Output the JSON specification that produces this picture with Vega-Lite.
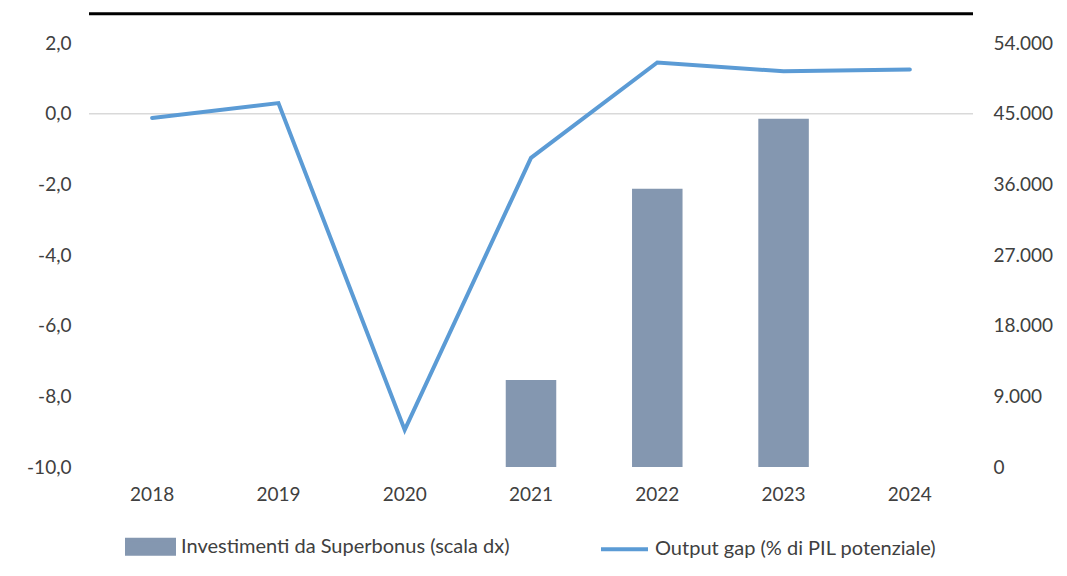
{
  "$schema": "https://vega.github.io/schema/vega-lite/v6.json",
  "width": 884,
  "height": 424,
  "autosize": {"type": "none"},
  "padding": {"left": 89, "top": 43, "right": 94, "bottom": 109},
  "background": "white",
  "config": {
    "font": "Lato",
    "view": {"stroke": null},
    "axis": {"domain": false, "ticks": false, "grid": false, "labelFont": "Lato", "labelFontSize": 19, "labelColor": "#404040", "title": null}
  },
  "data": {
    "values": [
      {"anno": "2018", "output_gap": -0.12, "investimenti": null},
      {"anno": "2019", "output_gap": 0.3, "investimenti": null},
      {"anno": "2020", "output_gap": -8.95, "investimenti": null},
      {"anno": "2021", "output_gap": -1.25, "investimenti": 11090},
      {"anno": "2022", "output_gap": 1.45, "investimenti": 35440},
      {"anno": "2023", "output_gap": 1.2, "investimenti": 44360},
      {"anno": "2024", "output_gap": 1.25, "investimenti": null}
    ]
  },
  "layer": [
    {
      "mark": {"type": "bar", "color": "#8497B0"},
      "encoding": {
        "x": {"field": "anno", "type": "ordinal", "scale": {"paddingInner": 0.6, "paddingOuter": 0.3}, "axis": {"title": null, "labelAngle": 0, "labelPadding": 18}},
        "y": {"field": "investimenti", "type": "quantitative", "scale": {"domain": [0, 54000], "nice": false},
          "axis": {"orient": "right", "values": [0, 9000, 18000, 27000, 36000, 45000, 54000], "labelExpr": "replace(format(datum.value, ','), ',', '.')", "labelPadding": 20, "labelAlign": "left"}},
        "color": {
          "datum": "Investimenti da Superbonus (scala dx)",
          "scale": {"domain": ["Investimenti da Superbonus (scala dx)", "Output gap (% di PIL potenziale)"], "range": ["#8497B0", "#5B9BD5"]},
          "legend": {
            "title": null,
            "orient": "none",
            "legendX": 36,
            "legendY": 478,
            "direction": "horizontal",
            "columns": 2,
            "columnPadding": 83,
            "padding": 0,
            "labelFont": "Lato",
            "labelFontSize": 20,
            "labelColor": "#404040",
            "labelLimit": 0,
            "labelOffset": 5,
            "symbolSize": 2209,
            "symbolStrokeWidth": 4,
            "encode": {
              "symbols": {
                "update": {
                  "shape": {"signal": "datum.value === 'Output gap (% di PIL potenziale)' ? 'stroke' : 'M-1,-0.3H1V0.3H-1Z'"},
                  "fill": {"signal": "datum.value === 'Output gap (% di PIL potenziale)' ? 'transparent' : '#8497B0'"},
                  "stroke": {"signal": "datum.value === 'Output gap (% di PIL potenziale)' ? '#5B9BD5' : 'transparent'"},
                  "strokeWidth": {"value": 4},
                  "opacity": {"value": 1}
                }
              }
            }
          }
        }
      }
    },
    {
      "layer": [
        {
          "data": {"values": [{}]},
          "mark": {"type": "rule", "color": "#D9D9D9", "strokeWidth": 1.5},
          "encoding": {"y": {"datum": 0}}
        },
        {
          "mark": {"type": "line", "strokeWidth": 4, "strokeCap": "round", "color": "#5B9BD5"},
          "encoding": {
            "x": {"field": "anno", "type": "ordinal"},
            "y": {"field": "output_gap", "type": "quantitative", "scale": {"domain": [-10, 2], "nice": false},
              "axis": {"orient": "left", "values": [-10, -8, -6, -4, -2, 0, 2], "labelExpr": "(datum.value < 0 ? '-' : '') + replace(format(abs(datum.value), '.1f'), '.', ',')", "labelPadding": 18}},
            "color": {"datum": "Output gap (% di PIL potenziale)"}
          }
        },
        {
          "data": {"values": [{}]},
          "mark": {"type": "rule", "color": "black", "strokeWidth": 3, "clip": false},
          "encoding": {"y": {"datum": 2.83}}
        }
      ]
    }
  ],
  "resolve": {"scale": {"y": "independent"}}
}
